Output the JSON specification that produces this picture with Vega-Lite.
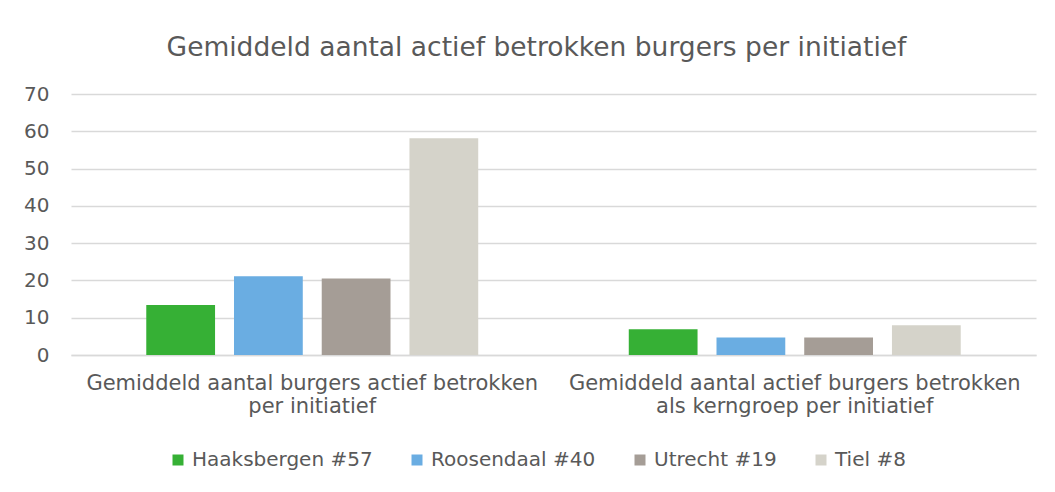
{
  "$schema": "https://vega.github.io/schema/vega-lite/v6.json",
  "width": 965,
  "height": 261,
  "autosize": {"type": "none"},
  "padding": {"left": 71, "top": 94, "right": 19, "bottom": 137},
  "background": "white",
  "config": {
    "font": "DejaVu Sans",
    "view": {"stroke": null},
    "axis": {"labelColor": "#595959", "labelFont": "DejaVu Sans"}
  },
  "title": {
    "text": "Gemiddeld aantal actief betrokken burgers per initiatief",
    "fontSize": 26.5,
    "fontWeight": "normal",
    "color": "#595959",
    "font": "DejaVu Sans",
    "anchor": "middle",
    "frame": "group",
    "dx": -17,
    "offset": 23
  },
  "data": {
    "values": [
      {"categorie": "Gemiddeld aantal burgers actief betrokken per initiatief", "gemeente": "Haaksbergen #57", "waarde": 13.4},
      {"categorie": "Gemiddeld aantal burgers actief betrokken per initiatief", "gemeente": "Roosendaal #40", "waarde": 21.1},
      {"categorie": "Gemiddeld aantal burgers actief betrokken per initiatief", "gemeente": "Utrecht #19", "waarde": 20.5},
      {"categorie": "Gemiddeld aantal burgers actief betrokken per initiatief", "gemeente": "Tiel #8", "waarde": 58.1},
      {"categorie": "Gemiddeld aantal actief burgers betrokken als kerngroep per initiatief", "gemeente": "Haaksbergen #57", "waarde": 6.9},
      {"categorie": "Gemiddeld aantal actief burgers betrokken als kerngroep per initiatief", "gemeente": "Roosendaal #40", "waarde": 4.7},
      {"categorie": "Gemiddeld aantal actief burgers betrokken als kerngroep per initiatief", "gemeente": "Utrecht #19", "waarde": 4.7},
      {"categorie": "Gemiddeld aantal actief burgers betrokken als kerngroep per initiatief", "gemeente": "Tiel #8", "waarde": 8.0}
    ]
  },
  "mark": {"type": "bar"},
  "encoding": {
    "x": {
      "field": "categorie",
      "type": "nominal",
      "sort": null,
      "scale": {"paddingInner": 0, "paddingOuter": 0},
      "axis": {
        "title": null,
        "labelAngle": 0,
        "labelFontSize": 21,
        "labelLineHeight": 23,
        "labelPadding": 17,
        "ticks": false,
        "domain": true,
        "domainColor": "#d9d9d9",
        "domainWidth": 1.5,
        "labelLimit": 0,
        "labelExpr": "datum.value == 'Gemiddeld aantal burgers actief betrokken per initiatief' ? ['Gemiddeld aantal burgers actief betrokken', 'per initiatief'] : ['Gemiddeld aantal actief burgers betrokken', 'als kerngroep per initiatief']"
      }
    },
    "xOffset": {
      "field": "gemeente",
      "type": "nominal",
      "sort": ["Haaksbergen #57", "Roosendaal #40", "Utrecht #19", "Tiel #8"],
      "scale": {"paddingInner": 0.216, "paddingOuter": 0.858}
    },
    "y": {
      "field": "waarde",
      "type": "quantitative",
      "scale": {"domain": [0, 70], "nice": false},
      "axis": {
        "title": null,
        "values": [0, 10, 20, 30, 40, 50, 60, 70],
        "labelFontSize": 20,
        "labelPadding": 22,
        "ticks": false,
        "domain": false,
        "gridColor": "#d9d9d9",
        "gridWidth": 1.5
      }
    },
    "color": {
      "field": "gemeente",
      "type": "nominal",
      "sort": ["Haaksbergen #57", "Roosendaal #40", "Utrecht #19", "Tiel #8"],
      "scale": {
        "domain": ["Haaksbergen #57", "Roosendaal #40", "Utrecht #19", "Tiel #8"],
        "range": ["#36b035", "#6aade2", "#a59d96", "#d5d3ca"]
      },
      "legend": {
        "title": null,
        "orient": "none",
        "direction": "horizontal",
        "legendX": 97,
        "legendY": 356,
        "symbolType": "square",
        "symbolSize": 121,
        "symbolStrokeWidth": 0,
        "labelFontSize": 20,
        "labelColor": "#595959",
        "labelFont": "DejaVu Sans",
        "labelOffset": 4,
        "columnPadding": 34,
        "labelLimit": 0
      }
    }
  }
}
